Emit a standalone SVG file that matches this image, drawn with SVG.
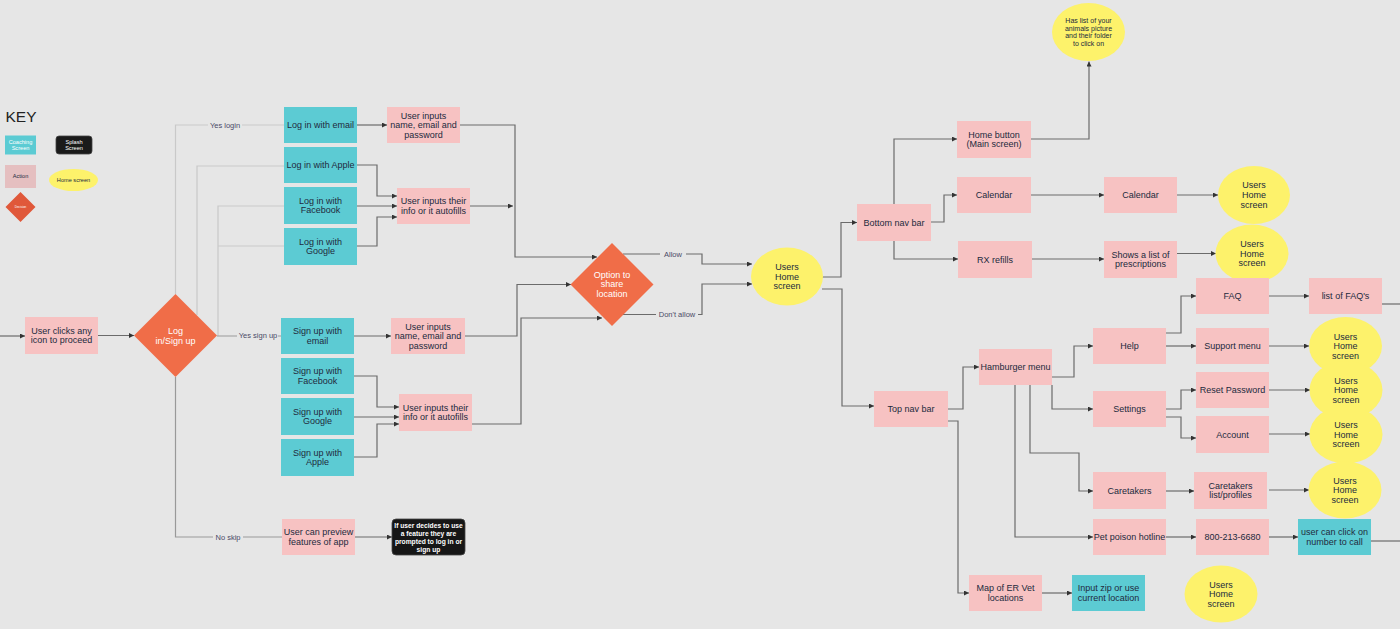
<svg xmlns="http://www.w3.org/2000/svg" width="1400" height="629" viewBox="0 0 1400 629">
<defs>
<marker id="ah" markerUnits="userSpaceOnUse" markerWidth="5" markerHeight="5" refX="5" refY="2.5" orient="auto">
<path d="M0,0 L5,2.5 L0,5 z" fill="#333"/>
</marker>
<style>
.bg{fill:#e6e6e6}
.pk{fill:#f7c2c2}
.tl{fill:#5ccbd3}
.yl{fill:#fdf26b}
.or{fill:#f06d48}
.t{font-family:"Liberation Sans",Arial,sans-serif;font-size:9px;fill:#222a3d;text-anchor:middle}
.w{fill:#ffffff}
.sm{font-size:7px}
.bk{font-size:6.7px;font-weight:bold;fill:#ffffff}
.k{font-size:5.6px}
.kd{font-size:3px}
.lb{font-family:"Liberation Sans",Arial,sans-serif;font-size:7.5px;fill:#4a4a66;text-anchor:middle}
.c{fill:none;stroke:#6b6b6b;stroke-width:1.2}
.a{marker-end:url(#ah)}
.lt{fill:none;stroke:#c9c9c9;stroke-width:1.2}
.md{fill:none;stroke:#999999;stroke-width:1.2}
</style>
</defs>
<rect class="bg" x="0" y="0" width="1400" height="629"/>

<g id="key">
<text x="5.5" y="121.7" font-family="Liberation Sans,Arial,sans-serif" font-size="15.5" fill="#222">KEY</text>
<rect class="tl" x="5" y="135.5" width="31" height="19"/>
<text class="t k w" x="20.5" y="143.5">Coaching</text>
<text class="t k w" x="20.5" y="149.5">Screen</text>
<rect x="56" y="136" width="36" height="18" rx="3" fill="#1a1a1a" stroke="#444" stroke-width="0.8"/>
<text class="t k w" x="74" y="143.5">Splash</text>
<text class="t k w" x="74" y="149.5">Screen</text>
<rect x="5" y="165" width="31" height="23" fill="#e5bfc0"/>
<text class="t k" x="20.5" y="178.3">Action</text>
<ellipse class="yl" cx="73.5" cy="180" rx="24.5" ry="11"/>
<text class="t k" x="73.5" y="182">Home screen</text>
<polygon points="20.5,192 35.5,207 20.5,222 5.5,207" fill="#e0583a"/>
<text class="t kd w" x="20.5" y="208">Decision</text>
</g>

<g id="connectors">
<path class="lt" d="M175.5,294 V125 H284"/>
<path class="lt" d="M197,315 V166 H284"/>
<path class="lt" d="M218,336 V206 H284"/>
<path class="lt" d="M218,246 H284"/>
<path class="md" d="M217,336 H281"/>
<path class="md" d="M175.5,377 V537 H282"/>
<rect class="bg" x="208" y="120" width="34" height="10"/>
<text class="lb" x="225" y="127.7">Yes login</text>
<rect class="bg" x="237" y="330" width="41" height="10"/>
<text class="lb" x="258" y="338">Yes sign up</text>
<rect class="bg" x="213" y="532" width="30" height="10"/>
<text class="lb" x="228" y="539.7">No skip</text>

<path class="c a" d="M0,336 H25"/>
<path class="c a" d="M98,335.5 H134"/>
<path class="c a" d="M357,125 H387"/>
<path class="c a" d="M357,165 H377 V196 H397"/>
<path class="c a" d="M357,206 H397"/>
<path class="c a" d="M357,246 H377 V217 H397"/>
<path class="c a" d="M354,336 H391"/>
<path class="c a" d="M354,376 H377 V407 H399"/>
<path class="c a" d="M354,417 H399"/>
<path class="c a" d="M354,457 H377 V424 H399"/>
<path class="c a" d="M355,537 H392"/>
<path class="c a" d="M460,125 H515 V257 H597"/>
<path class="c a" d="M470,206 H513"/>
<path class="c a" d="M465,336 H517 V284.5 H571"/>
<path class="c a" d="M472,424 H521 V318 H602"/>
<path class="c a" d="M623,254 H702 V264 H752"/>
<path class="c a" d="M623,314.5 H702 V284 H752"/>
<rect class="bg" x="660" y="249" width="26" height="10"/>
<text class="lb" x="673" y="256.7">Allow</text>
<rect class="bg" x="656" y="309.5" width="42" height="10"/>
<text class="lb" x="677" y="317.2">Don't allow</text>

<path class="c a" d="M822,277 H841 V222.5 H857"/>
<path class="c a" d="M822,289 H842 V406 H874"/>
<path class="c a" d="M894,204 V139 H957"/>
<path class="c a" d="M1031,139 H1089 V61.5"/>
<path class="c a" d="M931,222 H944 V195 H957"/>
<path class="c a" d="M894,241 V259 H958"/>
<path class="c a" d="M1031,195 H1104"/>
<path class="c a" d="M1177,195 H1218"/>
<path class="c a" d="M1032,259 H1104"/>
<path class="c a" d="M1177,253.5 H1216"/>
<path class="c a" d="M948,409 H963 V367 H979"/>
<path class="c a" d="M948,421 H958 V593 H969"/>
<path class="c a" d="M1042,593 H1072"/>
<path class="c a" d="M1052,377 H1074 V346 H1093"/>
<path class="c a" d="M1052,385 V409 H1093"/>
<path class="c a" d="M1030,385 V453 H1079 V491 H1093"/>
<path class="c a" d="M1015,385 V537 H1093"/>
<path class="c a" d="M1166,333 H1181 V296 H1196"/>
<path class="c a" d="M1166,346 H1196"/>
<path class="c a" d="M1269,296 H1309"/>
<path class="c" d="M1382,304 H1400"/>
<path class="c a" d="M1269,346 H1309"/>
<path class="c a" d="M1166,409 H1181 V390 H1196"/>
<path class="c a" d="M1166,417 H1181 V438 H1196"/>
<path class="c a" d="M1269,390 H1310"/>
<path class="c a" d="M1269,434 H1310"/>
<path class="c a" d="M1166,491 H1194"/>
<path class="c a" d="M1269,490 H1309"/>
<path class="c a" d="M1166,537 H1196"/>
<path class="c a" d="M1269,537 H1298"/>
<path class="c" d="M1371,541 H1400"/>
</g>

<g id="n-clicks"><rect class="pk" x="25" y="317" width="73" height="37"/><text class="t" x="61.5" y="333.5">User clicks any</text><text class="t" x="61.5" y="343.2">icon to proceed</text></g>
<g id="d-login"><polygon class="or" points="175.5,294 217,335.5 175.5,377 134,335.5"/><text class="t w" x="175.5" y="334">Log</text><text class="t w" x="175.5" y="344">in/Sign up</text></g>

<g id="n-login-email"><rect class="tl" x="284" y="107" width="73" height="36"/><text class="t" x="320.5" y="128.2">Log in with email</text></g>
<g id="n-login-apple"><rect class="tl" x="284" y="147" width="73" height="36"/><text class="t" x="320.5" y="168.2">Log in with Apple</text></g>
<g id="n-login-fb"><rect class="tl" x="284" y="187" width="73" height="37"/><text class="t" x="320.5" y="203.5">Log in with</text><text class="t" x="320.5" y="213.2">Facebook</text></g>
<g id="n-login-google"><rect class="tl" x="284" y="228" width="73" height="37"/><text class="t" x="320.5" y="244.5">Log in with</text><text class="t" x="320.5" y="254.2">Google</text></g>

<g id="n-login-inputs"><rect class="pk" x="387" y="107" width="73" height="36"/><text class="t" x="423.5" y="118.5">User inputs</text><text class="t" x="423.5" y="128.2">name, email and</text><text class="t" x="423.5" y="137.9">password</text></g>
<g id="n-login-info"><rect class="pk" x="397" y="188" width="73" height="36"/><text class="t" x="433.5" y="204">User inputs their</text><text class="t" x="433.5" y="213.7">info or it autofills</text></g>

<g id="n-signup-email"><rect class="tl" x="281" y="318" width="73" height="36"/><text class="t" x="317.5" y="334">Sign up with</text><text class="t" x="317.5" y="343.7">email</text></g>
<g id="n-signup-fb"><rect class="tl" x="281" y="358" width="73" height="36"/><text class="t" x="317.5" y="374">Sign up with</text><text class="t" x="317.5" y="383.7">Facebook</text></g>
<g id="n-signup-google"><rect class="tl" x="281" y="398" width="73" height="37"/><text class="t" x="317.5" y="414.5">Sign up with</text><text class="t" x="317.5" y="424.2">Google</text></g>
<g id="n-signup-apple"><rect class="tl" x="281" y="439" width="73" height="37"/><text class="t" x="317.5" y="455.5">Sign up with</text><text class="t" x="317.5" y="465.2">Apple</text></g>

<g id="n-signup-inputs"><rect class="pk" x="391" y="318" width="74" height="36"/><text class="t" x="428" y="329.5">User inputs</text><text class="t" x="428" y="339.2">name, email and</text><text class="t" x="428" y="348.9">password</text></g>
<g id="n-signup-info"><rect class="pk" x="399" y="394" width="73" height="37"/><text class="t" x="435.5" y="410.5">User inputs their</text><text class="t" x="435.5" y="420.2">info or it autofills</text></g>

<g id="n-preview"><rect class="pk" x="282" y="519" width="73" height="36"/><text class="t" x="318.5" y="535">User can preview</text><text class="t" x="318.5" y="544.7">features of app</text></g>
<g id="n-prompt"><rect x="392" y="519" width="73" height="36" rx="4" fill="#161616" stroke="#444" stroke-width="0.8"/><text class="t bk" x="428.5" y="527.5">If user decides to use</text><text class="t bk" x="428.5" y="535.5">a feature they are</text><text class="t bk" x="428.5" y="543.5">prompted to log in or</text><text class="t bk" x="428.5" y="551.5">sign up</text></g>

<g id="d-location"><polygon class="or" points="612,243 653.5,284.5 612,326 570.5,284.5"/><text class="t w" x="612" y="277.5">Option to</text><text class="t w" x="612" y="287.2">share</text><text class="t w" x="612" y="296.9">location</text></g>

<g id="e-home-main"><ellipse class="yl" cx="787" cy="276.5" rx="36" ry="29"/><text class="t" x="787" y="269.9">Users</text><text class="t" x="787" y="279.6">Home</text><text class="t" x="787" y="289.3">screen</text></g>

<g id="n-bottom-nav"><rect class="pk" x="857" y="204" width="74" height="37"/><text class="t" x="894" y="225.7">Bottom nav bar</text></g>
<g id="n-home-button"><rect class="pk" x="957" y="121" width="74" height="37"/><text class="t" x="994" y="137.5">Home button</text><text class="t" x="994" y="147.2">(Main screen)</text></g>
<g id="e-animals"><ellipse class="yl" cx="1088.5" cy="32" rx="36.5" ry="29"/><text class="t sm" x="1088.5" y="22.5">Has list of your</text><text class="t sm" x="1088.5" y="30.5">animals picture</text><text class="t sm" x="1088.5" y="38.2">and their folder</text><text class="t sm" x="1088.5" y="45.8">to click on</text></g>
<g id="n-calendar"><rect class="pk" x="957" y="177" width="74" height="36"/><text class="t" x="994" y="198.2">Calendar</text></g>
<g id="n-calendar2"><rect class="pk" x="1104" y="177" width="73" height="36"/><text class="t" x="1140.5" y="198.2">Calendar</text></g>
<g id="e-home-cal"><ellipse class="yl" cx="1254" cy="195" rx="36" ry="29"/><text class="t" x="1254" y="188.2">Users</text><text class="t" x="1254" y="198">Home</text><text class="t" x="1254" y="207.7">screen</text></g>
<g id="n-rx"><rect class="pk" x="958" y="241" width="74" height="37"/><text class="t" x="995" y="262.7">RX refills</text></g>
<g id="n-prescriptions"><rect class="pk" x="1104" y="241" width="73" height="37"/><text class="t" x="1140.5" y="257.5">Shows a list of</text><text class="t" x="1140.5" y="267.2">prescriptions</text></g>
<g id="e-home-rx"><ellipse class="yl" cx="1252" cy="253.5" rx="36.5" ry="29"/><text class="t" x="1252" y="247">Users</text><text class="t" x="1252" y="256.7">Home</text><text class="t" x="1252" y="266.4">screen</text></g>

<g id="n-top-nav"><rect class="pk" x="874" y="391" width="74" height="36"/><text class="t" x="911" y="412.2">Top nav bar</text></g>
<g id="n-hamburger"><rect class="pk" x="979" y="349" width="73" height="36"/><text class="t" x="1015.5" y="370.2">Hamburger menu</text></g>
<g id="n-help"><rect class="pk" x="1093" y="328" width="73" height="36"/><text class="t" x="1129.5" y="349.2">Help</text></g>
<g id="n-settings"><rect class="pk" x="1093" y="391" width="73" height="36"/><text class="t" x="1129.5" y="412.2">Settings</text></g>
<g id="n-caretakers"><rect class="pk" x="1093" y="472" width="73" height="37"/><text class="t" x="1129.5" y="493.7">Caretakers</text></g>
<g id="n-poison"><rect class="pk" x="1093" y="519" width="73" height="36"/><text class="t" x="1129.5" y="540.2">Pet poison hotline</text></g>
<g id="n-faq"><rect class="pk" x="1196" y="278" width="73" height="36"/><text class="t" x="1232.5" y="299.2">FAQ</text></g>
<g id="n-support"><rect class="pk" x="1196" y="328" width="73" height="36"/><text class="t" x="1232.5" y="349.2">Support menu</text></g>
<g id="n-reset"><rect class="pk" x="1196" y="372" width="73" height="36"/><text class="t" x="1232.5" y="393.2">Reset Password</text></g>
<g id="n-account"><rect class="pk" x="1196" y="416" width="73" height="37"/><text class="t" x="1232.5" y="437.7">Account</text></g>
<g id="n-faq-list"><rect class="pk" x="1309" y="278" width="73" height="36"/><text class="t" x="1345.5" y="299.2">list of FAQ's</text></g>
<g id="n-caretakers-list"><rect class="pk" x="1194" y="472" width="73" height="37"/><text class="t" x="1230.5" y="488.5">Caretakers</text><text class="t" x="1230.5" y="498.2">list/profiles</text></g>
<g id="n-phone"><rect class="pk" x="1196" y="519" width="73" height="36"/><text class="t" x="1232.5" y="540.2">800-213-6680</text></g>
<g id="n-call"><rect class="tl" x="1298" y="519" width="73" height="36"/><text class="t" x="1334.5" y="535">user can click on</text><text class="t" x="1334.5" y="544.7">number to call</text></g>

<g id="e-home-support"><ellipse class="yl" cx="1345.5" cy="346" rx="36.5" ry="29"/><text class="t" x="1345.5" y="339.5">Users</text><text class="t" x="1345.5" y="349.2">Home</text><text class="t" x="1345.5" y="358.9">screen</text></g>
<g id="e-home-reset"><ellipse class="yl" cx="1346" cy="390" rx="36.5" ry="29"/><text class="t" x="1346" y="383.5">Users</text><text class="t" x="1346" y="393.2">Home</text><text class="t" x="1346" y="402.9">screen</text></g>
<g id="e-home-account"><ellipse class="yl" cx="1346" cy="434.5" rx="36.5" ry="29"/><text class="t" x="1346" y="428">Users</text><text class="t" x="1346" y="437.7">Home</text><text class="t" x="1346" y="447.4">screen</text></g>
<g id="e-home-caretakers"><ellipse class="yl" cx="1345" cy="490" rx="36.5" ry="28.5"/><text class="t" x="1345" y="483.5">Users</text><text class="t" x="1345" y="493.2">Home</text><text class="t" x="1345" y="502.9">screen</text></g>

<g id="n-map"><rect class="pk" x="969" y="575" width="73" height="36"/><text class="t" x="1005.5" y="591">Map of ER Vet</text><text class="t" x="1005.5" y="600.7">locations</text></g>
<g id="n-zip"><rect class="tl" x="1072" y="575" width="73" height="36"/><text class="t" x="1108.5" y="591">Input zip or use</text><text class="t" x="1108.5" y="600.7">current location</text></g>
<g id="e-home-standalone"><ellipse class="yl" cx="1221" cy="594" rx="36.5" ry="28.5"/><text class="t" x="1221" y="587.5">Users</text><text class="t" x="1221" y="597.2">Home</text><text class="t" x="1221" y="606.9">screen</text></g>
</svg>
